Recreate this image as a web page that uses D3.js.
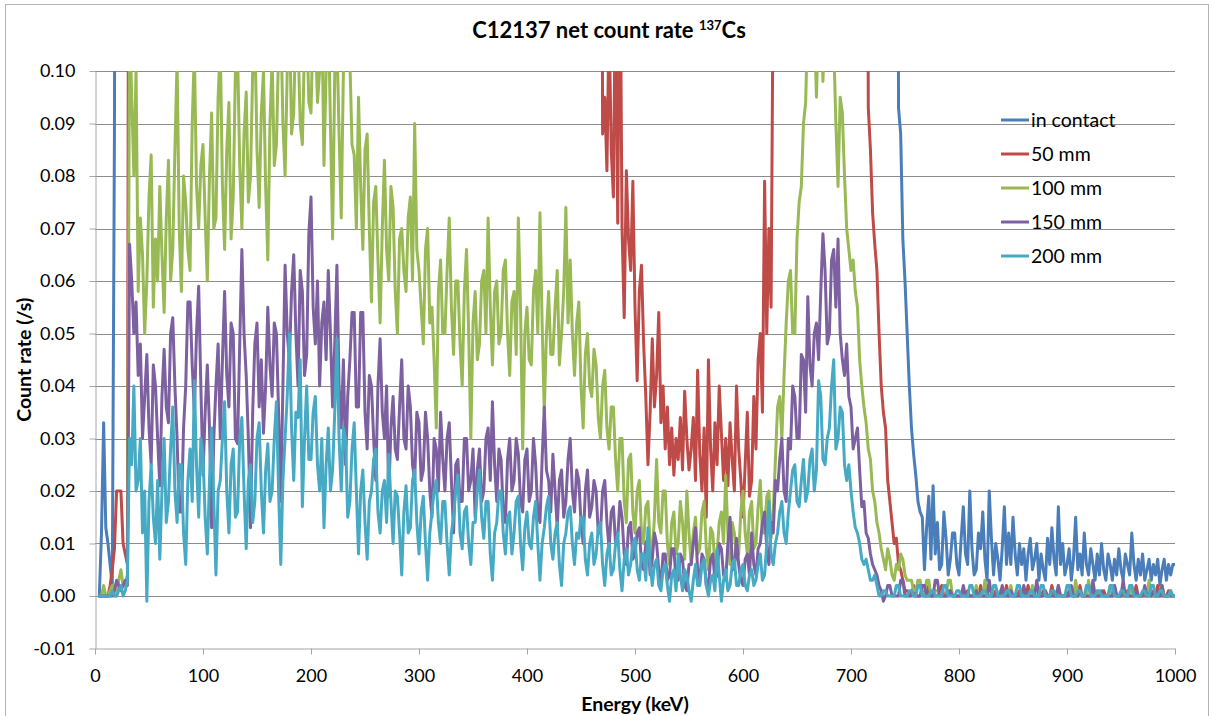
<!DOCTYPE html>
<html><head><meta charset="utf-8">
<script src="https://cdn.jsdelivr.net/npm/d3@7"></script>
<style>
body{margin:0;background:#fff;}
text{font-family:Lato,"Open Sans","Noto Sans",sans-serif;fill:#000;}
</style>
</head><body>
<svg id="chart" width="1213" height="716"></svg>
<script>
// ---------- DATA ----------
const chartTitle = "C12137 net count rate ";
const xTitle = "Energy (keV)";
const yTitle = "Count rate (/s)";
const seriesNames = ["in contact", "50 mm", "100 mm", "150 mm", "200 mm"];
const xTicks = [0,100,200,300,400,500,600,700,800,900,1000];
const yTicks = [-0.01,0,0.01,0.02,0.03,0.04,0.05,0.06,0.07,0.08,0.09,0.10];

// energy (keV) of each channel point
const energies = [
4,6,8,10,12,14,16,18,20,22,24,26,28,30,32,34,36,38,40,42,44,46,48,50,52,54,56,58,60,62,64,66,68,70,72,74,76,78,80,82,84,86,88,90,92,94,96,98,
100,102,104,106,108,110,112,114,116,118,120,122,124,126,128,130,132,134,136,138,140,142,144,146,148,150,152,154,156,158,160,162,164,166,168,170,172,174,176,178,180,182,184,186,188,190,192,194,196,198,
200,202,204,206,208,210,212,214,216,218,220,222,224,226,228,230,232,234,236,238,240,242,244,246,248,250,252,254,256,258,260,262,264,266,268,270,272,274,276,278,280,282,284,286,288,290,292,294,296,298,
300,302,304,306,308,310,312,314,316,318,320,322,324,326,328,330,332,334,336,338,340,342,344,346,348,350,352,354,356,358,360,362,364,366,368,370,372,374,376,378,380,382,384,386,388,390,392,394,396,398,
400,402,404,406,408,410,412,414,416,418,420,422,424,426,428,430,432,434,436,438,440,442,444,446,448,450,452,454,456,458,460,462,464,466,468,470,472,474,476,478,480,482,484,486,488,490,492,494,496,498,
500,502,504,506,508,510,512,514,516,518,520,522,524,526,528,530,532,534,536,538,540,542,544,546,548,550,552,554,556,558,560,562,564,566,568,570,572,574,576,578,580,582,584,586,588,590,592,594,596,598,
600,602,604,606,608,610,612,614,616,618,620,622,624,626,628,630,632,634,636,638,640,642,644,646,648,650,652,654,656,658,660,662,664,666,668,670,672,674,676,678,680,682,684,686,688,690,692,694,696,698,
700,702,704,706,708,710,712,714,716,718,720,722,724,726,728,730,732,734,736,738,740,742,744,746,748,750,752,754,756,758,760,762,764,766,768,770,772,774,776,778,780,782,784,786,788,790,792,794,796,798,
800,802,804,806,808,810,812,814,816,818,820,822,824,826,828,830,832,834,836,838,840,842,844,846,848,850,852,854,856,858,860,862,864,866,868,870,872,874,876,878,880,882,884,886,888,890,892,894,896,898,
900,902,904,906,908,910,912,914,916,918,920,922,924,926,928,930,932,934,936,938,940,942,944,946,948,950,952,954,956,958,960,962,964,966,968,970,972,974,976,978,980,982,984,986,988,990,992,994,996,998,
1000];

// count rates (/s); values above 0.10 lie off the top of the plot
const inContact = [
0,.012,.033,.013,.01,.006,.002,.088,
.3,.3,.3,.3,.3,.3,.3,.3,.3,.3,.3,.3,.3,.3,.3,.3,.3,.3,.3,.3,
.3,.3,.3,.3,.3,.3,.3,.3,.3,.3,.3,.3,.3,.3,.3,.3,.3,.3,.3,.3,
.3,.3,.3,.3,.3,.3,.3,.3,.3,.3,.3,.3,.3,.3,.3,.3,.3,.3,.3,.3,.3,.3,.3,.3,.3,
.3,.3,.3,.3,.3,.3,.3,.3,.3,.3,.3,.3,.3,.3,.3,.3,.3,.3,.3,.3,.3,.3,.3,.3,.3,
.3,.3,.3,.3,.3,.3,.3,.3,.3,.3,.3,.3,.3,.3,.3,.3,.3,.3,.3,.3,.3,.3,.3,.3,.3,
.3,.3,.3,.3,.3,.3,.3,.3,.3,.3,.3,.3,.3,.3,.3,.3,.3,.3,.3,.3,.3,.3,.3,.3,.3,
.3,.3,.3,.3,.3,.3,.3,.3,.3,.3,.3,.3,.3,.3,.3,.3,.3,.3,.3,.3,.3,.3,.3,.3,.3,
.3,.3,.3,.3,.3,.3,.3,.3,.3,.3,.3,.3,.3,.3,.3,.3,.3,.3,.3,.3,.3,.3,.3,.3,.3,
.3,.3,.3,.3,.3,.3,.3,.3,.3,.3,.3,.3,.3,.3,.3,.3,.3,.3,.3,.3,.3,.3,.3,.3,.3,
.3,.3,.3,.3,.3,.3,.3,.3,.3,.3,.3,.3,.3,.3,.3,.3,.3,.3,.3,.3,.3,.3,.3,.3,.3,
.3,.3,.3,.3,.3,.3,.3,.3,.3,.3,.3,.3,.3,.3,.3,.3,.3,.3,.3,.3,.3,.3,.3,.3,.3,
.3,.3,.3,.3,.3,.3,.3,.3,.3,.3,.3,.3,.3,.3,.3,.3,.3,.3,.3,.3,.3,.3,.3,.3,.3,
.3,.3,.3,.3,.3,.3,.3,.3,.3,.3,.3,.3,.3,.3,.3,.3,.3,.3,.3,.3,.3,.3,.3,.3,.3,
.3,.3,.3,.3,.3,.3,.3,.3,.3,.3,.3,.3,.3,.3,.3,.3,.3,.3,.3,.3,.3,.3,.3,.3,.3,
.3,.3,.3,.3,.3,.3,.3,.3,.3,.3,.3,.3,.3,.3,.3,.3,.3,.3,.3,.3,.3,.3,
.093,.088,.068,.06,.05,.04,.032,.027,.023,.018,.016,.015,.005,.013,.019,.007,.021,.008,.014,.005,.006,.016,.011,.004,.007,.012,.012,.006,
.004,.011,.017,.008,.006,.02,.009,.004,.005,.012,.009,.016,.007,.003,.02,.011,.004,.01,.007,.003,.009,.017,.006,.012,.006,
.015,.008,.004,.01,.006,.009,.003,.008,.011,.005,.007,.01,.003,.008,.005,.003,.011,.006,.013,.007,.004,.017,.006,.01,.004,
.006,.009,.003,.007,.015,.005,.008,.004,.012,.006,.004,.009,.006,.003,.008,.004,.01,.005,.003,.008,.006,.003,.007,.004,.009,
.005,.003,.008,.006,.004,.012,.006,.003,.007,.004,.008,.003,.005,.007,.003,.006,.004,.007,.002,.005,.007,.003,.006,.004,.006,
.006];

const mm50 = [
0,0,0,0,0,.002,.005,.009,.02,.02,.02,.01,.008,.006,
.25,.25,.25,.25,.25,.25,.25,.25,.25,.25,.25,.25,.25,.25,.25,.25,.25,
.25,.25,.25,.25,.25,.25,.25,.25,.25,.25,.25,.25,.25,.25,.25,.25,.25,
.25,.25,.25,.25,.25,.25,.25,.25,.25,.25,.25,.25,.25,.25,.25,.25,.25,.25,.25,.25,.25,.25,.25,.25,.25,
.25,.25,.25,.25,.25,.25,.25,.25,.25,.25,.25,.25,.25,.25,.25,.25,.25,.25,.25,.25,.25,.25,.25,.25,.25,
.25,.25,.25,.25,.25,.25,.25,.25,.25,.25,.25,.25,.25,.25,.25,.25,.25,.25,.25,.25,.25,.25,.25,.25,.25,
.25,.25,.25,.25,.25,.25,.25,.25,.25,.25,.25,.25,.25,.25,.25,.25,.25,.25,.25,.25,.25,.25,.25,.25,.25,
.25,.25,.25,.25,.25,.25,.25,.25,.25,.25,.25,.25,.25,.25,.25,.25,.25,.25,.25,.25,.25,.25,.25,.25,.25,
.25,.25,.25,.25,.25,.25,.25,.25,.25,.25,.25,.25,.25,.25,.25,.25,.25,.25,.25,.25,.25,.25,.25,.25,.25,
.25,.25,.25,.25,.25,.25,.25,.25,.25,.25,.25,.25,.25,.25,.25,.25,.25,
.25,.25,.25,.25,.25,.25,.25,.25,.25,.25,.25,.25,.25,.25,.25,.25,.25,
.25,.088,.095,.081,.11,.085,.076,.12,.071,.13,.07,.053,.081,.068,.062,.079,
.055,.041,.058,.063,.048,.038,.025,.035,.049,.036,.042,.054,.033,.04,.028,.036,.025,.032,.023,.03,.026,.034,.024,.039,.03,
.024,.028,.034,.022,.043,.027,.02,.032,.015,.045,.028,.02,.033,.025,.04,.031,.022,.03,.021,.033,.026,.02,.04,.028,.022,
.015,.025,.035,.019,.022,.038,.028,.045,.05,.035,.079,.05,.07,.055,.12,
.25,.25,.25,.25,.25,.25,.25,.25,.25,.25,.25,.25,.25,.25,.25,.25,.25,.25,
.25,.25,.25,.25,.25,.25,.25,.25,.25,.25,.25,.25,.25,.25,.25,.25,.25,
.25,.25,.25,.25,.25,.25,.25,.25,
.093,.085,.073,.067,.062,.05,.04,.035,.032,.022,.018,.014,.01,.011,.006,.005,.003,.001,.001,0,0,
.002,0,0,0,.001,0,0,.002,0,0,0,0,.001,.002,0,0,0,.001,0,0,0,
0,0,0,0,.001,0,0,0,0,0,.002,0,0,0,0,0,0,.001,0,0,0,0,.002,0,0,
0,0,0,.001,0,0,0,.002,0,0,0,0,0,0,.001,0,0,0,.002,0,0,0,0,0,0,
0,.001,0,0,0,0,.002,0,0,0,0,0,.002,0,0,0,0,.001,0,0,0,0,.002,0,0,
0,0,0,.001,0,0,0,.002,0,0,0,0,0,.001,0,0,0,.002,0,0,0,0,.001,0,0,
0];

const mm100 = [
0,0,.002,0,0,.001,.002,0,0,.003,.005,.002,.002,.004,
.11,.095,.08,.1,.058,.072,.065,.05,.06,.076,.084,.055,.068,.06,.078,.065,.054,.072,.083,.06,.066,.085,.102,.07,.058,.08,.075,.066,.062,.09,.104,.078,.07,.082,
.086,.072,.06,.08,.092,.07,.072,.095,.105,.078,.066,.085,.094,.068,.076,.1,.104,.082,.07,.088,.096,.075,.08,.1,.108,
.085,.074,.092,.1,.078,.064,.09,.102,.082,.086,.104,.11,.09,.08,.1,.112,.088,.092,.11,.106,.09,.086,.105,.11,.094,
.092,.11,.108,.094,.1,.112,.082,.1,.112,.09,.068,.1,.106,.088,.072,.1,.11,.105,.102,.086,.084,.07,.095,.078,.066,
.085,.088,.07,.056,.075,.078,.064,.052,.07,.083,.066,.06,.078,.074,.058,.05,.068,.07,.062,.058,.072,.076,.06,.09,.066,
.062,.055,.048,.066,.07,.052,.055,.045,.032,.058,.064,.05,.05,.062,.072,.055,.046,.06,.06,.048,.04,.058,.066,.05,.03,
.052,.058,.045,.048,.06,.062,.05,.072,.055,.044,.058,.06,.048,.05,.062,.064,.05,.042,.056,.058,.046,.072,.055,.028,.05,
.055,.045,.044,.058,.062,.05,.073,.052,.035,.05,.058,.046,.046,.055,.062,.044,.05,.058,.074,.052,.064,.05,.042,.052,.056,
.04,.032,.046,.05,.04,.038,.047,.044,.034,.03,.04,.043,.032,.028,.036,.036,.026,.02,.03,.03,.018,.014,.026,.027,.016,
.012,.02,.022,.012,.01,.017,.018,.01,.008,.015,.026,.014,.012,.02,.02,.01,.006,.014,.016,.008,.01,.018,.014,.007,.02,
.012,.006,.012,.015,.008,.009,.016,.018,.009,.005,.013,.012,.006,.008,.014,.016,.01,.023,.012,.006,.014,.012,.007,.008,.016,
.02,.012,.008,.016,.018,.009,.01,.017,.022,.012,.012,.019,.02,.011,.016,.026,.036,.038,.03,.042,.052,.06,.062,.05,.05,
.068,.075,.078,.09,.094,.11,.12,.104,.11,.095,.11,.12,.098,.11,.12,.115,.11,.105,.09,.078,.095,.092,.08,.07,.066,
.062,.064,.058,.055,.045,.04,.036,.033,.028,.026,.02,.018,.014,.012,.009,.007,.005,.009,.007,.004,.003,.006,.005,.008,.007,
.004,.003,.003,.003,.001,.001,.003,.003,0,0,.003,.003,0,0,.001,.001,0,0,0,0,.003,.003,0,0,0,
0,0,.001,0,0,0,0,0,.002,0,0,0,.003,0,0,0,0,0,0,.001,0,0,0,0,.002,
0,0,0,0,0,.001,0,0,0,.002,0,0,0,0,0,.001,0,0,0,0,0,.002,0,0,0,
0,0,.001,0,.003,0,0,0,0,0,.003,0,0,0,.001,0,0,0,0,0,.002,0,0,0,0,
0,.001,0,0,0,.002,0,0,0,0,0,.001,0,.003,0,0,0,0,0,.002,0,0,0,.001,0,
0];

const mm150 = [
0,0,0,0,0,0,0,.001,.003,.002,.001,.002,.003,.002,
.067,.06,.05,.056,.042,.048,.03,.038,.046,.032,.025,.044,.04,.03,.021,.038,.047,.036,.033,.05,.053,.04,.03,.016,.016,.032,.04,.056,.056,.044,.035,.05,.059,.04,
.023,.035,.044,.032,.013,.03,.04,.048,.03,.045,.058,.042,.036,.052,.05,.03,.029,.048,.066,.05,.042,.03,.013,.035,.048,
.052,.036,.045,.031,.04,.055,.044,.038,.052,.05,.035,.018,.04,.063,.05,.045,.058,.065,.05,.04,.062,.058,.042,.046,.069,
.076,.055,.048,.06,.04,.052,.056,.045,.062,.05,.036,.048,.063,.04,.032,.045,.025,.038,.045,.054,.054,.036,.036,.054,.054,
.035,.028,.042,.04,.03,.022,.04,.049,.035,.03,.04,.019,.032,.038,.028,.026,.036,.045,.03,.028,.04,.036,.025,.022,.035,
.033,.022,.024,.035,.03,.02,.015,.03,.028,.02,.035,.026,.02,.03,.033,.022,.012,.025,.026,.018,.018,.03,.03,.02,.022,
.028,.015,.024,.028,.018,.02,.03,.032,.022,.037,.025,.018,.028,.026,.016,.014,.026,.03,.02,.022,.03,.027,.018,.016,.026,
.028,.018,.02,.03,.025,.016,.014,.026,.036,.024,.022,.016,.027,.02,.013,.022,.024,.015,.018,.026,.03,.02,.016,.024,.022,
.014,.01,.02,.024,.015,.017,.022,.02,.012,.012,.02,.022,.014,.009,.016,.017,.01,.011,.018,.015,.008,.006,.013,.014,.007,
.008,.012,.013,.006,.005,.01,.011,.004,.007,.012,.01,.005,.002,.008,.008,.003,.004,.009,.009,.003,.003,.008,.007,.002,.001,
.006,.006,.01,.013,.005,.003,.008,.007,.002,.002,.007,.008,.003,.004,.01,.009,.004,.003,.01,.015,.007,.005,.011,.006,.003,
.002,.007,.008,.004,.012,.006,.004,.009,.01,.014,.016,.009,.006,.014,.012,.022,.02,.026,.03,.02,.018,.03,.028,.04,.038,
.03,.03,.046,.045,.035,.057,.044,.04,.05,.052,.045,.058,.069,.062,.048,.05,.064,.066,.055,.068,.05,.045,.042,.048,.038,
.036,.028,.03,.032,.024,.017,.018,.012,.011,.008,.006,.005,.004,.002,.001,-.001,0,.002,.002,0,0,0,0,.003,.003,
0,0,0,.001,0,0,0,0,.002,.002,0,0,0,0,.003,.003,0,0,0,0,.001,.001,0,0,0,
0,0,.002,0,0,0,0,0,.001,0,0,0,0,0,.003,0,0,0,0,0,.002,0,0,0,.001,
0,0,0,0,0,.002,0,0,0,0,0,.003,0,0,0,.001,0,0,0,0,0,.002,0,0,0,
0,0,.002,0,0,0,.001,0,0,0,0,0,.003,0,0,0,.001,0,0,0,0,0,.002,0,0,
0,.003,0,0,0,0,0,.001,0,0,0,.002,0,0,0,.001,0,0,0,.002,0,0,0,0,0,
0];

const mm200 = [
0,0,0,0,0,0,.001,0,0,.001,.002,0,.001,.003,
.03,.025,.04,.02,.022,.03,.012,.02,-.001,.018,.025,.015,.01,.022,.007,.02,.03,.014,.018,.028,.036,.02,.014,.025,.025,.012,.006,.022,.028,.018,.041,.025,.015,.03,
.027,.015,.008,.022,.032,.018,.004,.02,.022,.03,.037,.02,.012,.025,.028,.015,.016,.03,.034,.02,.009,.022,.025,.014,.018,
.03,.033,.02,.012,.024,.029,.018,.02,.03,.037,.02,.006,.022,.03,.038,.05,.032,.022,.035,.034,.045,.017,.03,.04,.026,
.026,.035,.038,.025,.02,.03,.013,.025,.032,.02,.024,.035,.049,.03,.02,.032,.03,.015,.018,.028,.033,.02,.008,.02,.024,
.014,.007,.018,.02,.026,.028,.016,.012,.02,.022,.014,.027,.018,.01,.02,.019,.012,.004,.016,.021,.012,.013,.022,.024,.014,
.008,.016,.019,.01,.003,.012,.016,.02,.022,.014,.01,.018,.018,.01,.004,.012,.015,.02,.023,.012,.009,.016,.017,.01,.006,
.014,.014,.02,.024,.015,.011,.018,.018,.008,.003,.012,.014,.02,.02,.012,.008,.015,.016,.008,.012,.018,.019,.01,.005,.013,
.016,.01,.009,.015,.018,.01,.003,.01,.013,.017,.019,.01,.007,.012,.014,.006,.002,.01,.012,.016,.017,.01,.006,.012,.011,
.015,.015,.007,.004,.01,.012,.006,.008,.013,.014,.006,.002,.008,.01,.004,.005,.01,.012,.005,.001,.007,.009,.004,.006,.01,
.011,.005,.003,.008,.008,.003,.013,.006,.002,.006,.007,.002,.001,.005,.006,.002,-.001,.004,.005,.001,.008,.004,.001,.005,.004,
.001,-.001,.003,.006,.002,.002,.006,.007,.002,0,.003,.004,.001,.009,.004,-.001,.003,.005,.001,.002,.006,.007,.002,.002,.005,
.006,.002,.001,.004,.005,.002,.003,.006,.008,.003,.004,.01,.018,.008,.006,.01,.012,.016,.018,.012,.01,.016,.02,.024,.025,
.018,.017,.022,.026,.018,.02,.026,.028,.02,.024,.041,.038,.026,.025,.03,.032,.04,.045,.028,.03,.036,.035,.025,.022,.025,
.02,.016,.013,.012,.01,.007,.006,.007,.005,.003,.003,.004,.002,0,0,.001,.001,0,0,0,0,.002,.002,0,0,
0,0,.001,.001,0,0,.002,.002,0,0,0,0,.001,.001,0,0,0,0,.002,.002,0,0,0,0,.001,
.001,0,0,0,0,.002,.002,0,0,0,0,.001,.001,0,0,0,.002,.002,0,0,0,0,.001,.001,0,
0,0,.002,.002,0,0,0,0,.001,.001,0,0,0,.002,.002,0,0,0,.001,.001,0,0,0,0,0,
.002,.002,0,0,0,.001,.001,0,0,.002,.002,0,0,0,.001,.001,0,0,0,0,.002,.002,0,0,0,
.001,.001,0,0,.002,.002,0,0,0,0,.001,.001,0,0,.002,.002,0,0,.001,.001,0,0,0,.001,0,
0];

// ---------- DRAWING ----------
const seriesData = [inContact, mm50, mm100, mm150, mm200];
const colors = ["#4a7ebb", "#be4b48", "#98b954", "#7d60a0", "#46aac5"];
seriesData.forEach((s, k) => { if (s.length !== energies.length) console.error("length mismatch", seriesNames[k], s.length, energies.length); });

const W = 1213, H = 716;
const plot = {left: 95, right: 1175, top: 71, bottom: 648.5};

const svg = d3.select("#chart");
svg.append("rect").attr("width", W).attr("height", H).attr("fill", "#fff");
svg.append("rect").attr("x", 5.5).attr("y", 4.5).attr("width", 1203).attr("height", 730)
  .attr("fill", "none").attr("stroke", "#b4b4b4").attr("stroke-width", 1);

const x = d3.scaleLinear().domain([0, 1000]).range([plot.left, plot.right]);
const y = d3.scaleLinear().domain([-0.01, 0.10]).range([plot.bottom, plot.top]);

svg.append("g").selectAll("line").data(yTicks.filter(v => v > -0.005)).join("line")
  .attr("x1", plot.left).attr("x2", plot.right)
  .attr("y1", d => Math.round(y(d)) + 0.5).attr("y2", d => Math.round(y(d)) + 0.5)
  .attr("stroke", "#8c8c8c").attr("stroke-width", 1);

const yAxis = svg.append("g").attr("transform", `translate(${plot.left + 0.5},0)`)
  .call(d3.axisLeft(y).tickValues(yTicks).tickFormat(d => d.toFixed(2)).tickSize(6).tickSizeOuter(0).tickPadding(14));
const xAxis = svg.append("g").attr("transform", `translate(0,${plot.bottom})`)
  .call(d3.axisBottom(x).tickValues(xTicks).tickFormat(d => String(d)).tickSize(6).tickSizeOuter(0).tickPadding(15));
[yAxis, xAxis].forEach(a => {
  a.selectAll("path.domain").attr("stroke", "#a6a6a6");
  a.selectAll(".tick line").attr("stroke", "#a6a6a6");
  a.selectAll("text").attr("font-size", 18).attr("font-family", "Lato, 'Open Sans', sans-serif").attr("fill", "#000");
});

svg.append("clipPath").attr("id", "clip").append("rect")
  .attr("x", plot.left).attr("y", plot.top).attr("width", plot.right - plot.left).attr("height", plot.bottom - plot.top + 10);

const line = d3.line().x((d, i) => x(energies[i])).y(d => y(d));
const g = svg.append("g").attr("clip-path", "url(#clip)");
seriesData.forEach((s, k) => {
  g.append("path").datum(s).attr("d", line).attr("fill", "none")
    .attr("stroke", colors[k]).attr("stroke-width", 3)
    .attr("stroke-linejoin", "round").attr("stroke-linecap", "round");
});

const lg = svg.append("g");
seriesNames.forEach((n, k) => {
  const yy = 120 + k * 34;
  lg.append("line").attr("x1", 1001).attr("x2", 1029).attr("y1", yy).attr("y2", yy)
    .attr("stroke", colors[k]).attr("stroke-width", 3);
  lg.append("text").attr("x", 1031).attr("y", yy + 7).attr("font-size", 19.5).text(n);
});

const t = svg.append("text").attr("x", 609).attr("y", 38).attr("text-anchor", "middle")
  .attr("font-size", 22).attr("font-weight", "bold");
t.append("tspan").text(chartTitle);
t.append("tspan").attr("font-size", 13).attr("dy", -8).text("137");
t.append("tspan").attr("dy", 8).text("Cs");

svg.append("text").attr("x", (plot.left + plot.right) / 2).attr("y", 711).attr("text-anchor", "middle")
  .attr("font-size", 19.5).attr("font-weight", "bold").text(xTitle);
svg.append("text").attr("transform", `translate(31,${(plot.top + plot.bottom) / 2}) rotate(-90)`)
  .attr("text-anchor", "middle").attr("font-size", 19.5).attr("font-weight", "bold").text(yTitle);
</script>
</body></html>
